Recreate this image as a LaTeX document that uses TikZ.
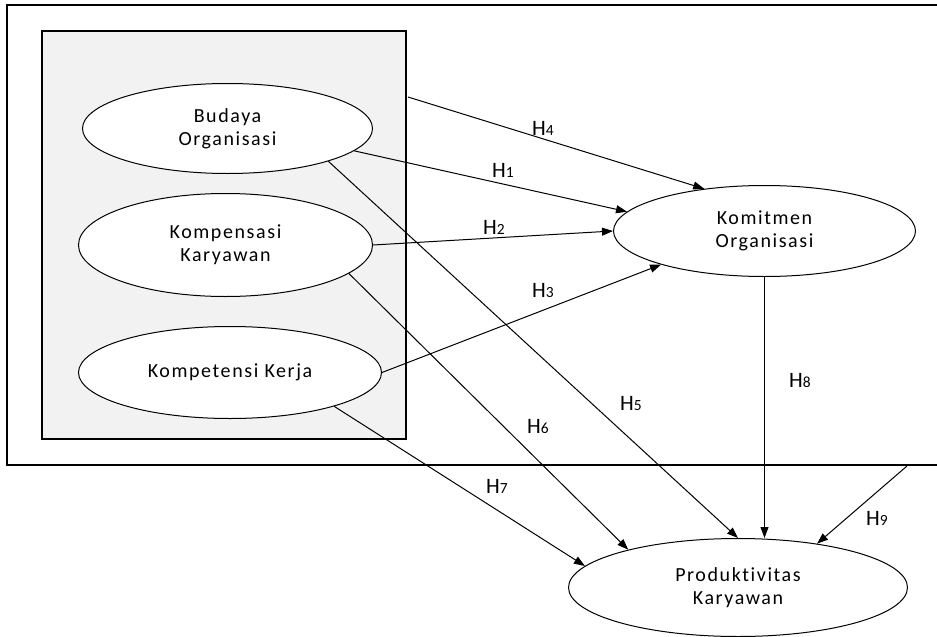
\documentclass[tikz,border=0pt]{standalone}
\usepackage{fontspec}
\setmainfont{Carlito}[Ligatures=NoCommon]
\newfontfamily\elfont{Carlito}[LetterSpace=8,Ligatures=NoCommon]
\usetikzlibrary{arrows.meta,shapes.geometric}
\newcommand\hlab[1]{H{\fontsize{15.5}{15.5}\selectfont #1}}
\begin{document}
\begin{tikzpicture}[x=1pt,y=-1pt,
  var/.style={draw, ellipse, fill=white, line width=1pt, inner sep=0pt, align=center,
    font=\elfont\fontsize{20}{23}\selectfont},
  conn/.style={-{Triangle[length=11pt,width=8pt]}, line width=1pt},
  hyp/.style={inner sep=0pt, font=\fontsize{22}{24}\selectfont},
  frame/.style={line width=1.3pt}]
\useasboundingbox (0,0) rectangle (937,637);
% outer frame
\draw[frame] (937,5) -- (7,5) -- (7,465) -- (937,465);
% inner group box
\draw[line width=1.2pt, fill={rgb,255:red,242;green,242;blue,242}] (42,31) rectangle (406,439);
% variables
\node[var, minimum width=290pt, minimum height=90pt] (bud) at (227.5,128.5) {Budaya\\Organisasi};
\node[var, minimum width=294pt, minimum height=103pt] (kmp) at (225.5,245) {Kompensasi\\Karyawan};
\node[var, minimum width=303pt, minimum height=92pt] (kpt) at (230,372.5) {Kompetensi Kerja};
\node[var, minimum width=302pt, minimum height=91pt] (kmt) at (764.5,231) {Komitmen\\Organisasi};
\node[var, minimum width=339pt, minimum height=98pt] (prd) at (738,587.5) {Produktivitas\\Karyawan};
% free ends
\coordinate (h4s) at (408,97);
\coordinate (h9s) at (907,466);
% connectors
\draw[conn] (h4s) -- (kmt.145);
\draw[conn] (bud.-10.5) -- (kmt.172);
\draw[conn] (kmp.east) -- (kmt.west);
\draw[conn] (kpt.east) -- (kmt.198);
\draw[conn] (bud.-18) -- (prd.north);
\draw[conn] (kmp.-13) -- (prd.161);
\draw[conn] (kpt.-18) -- (prd.172);
\draw[conn] (kmt.south) -- (kmt.south |- prd.north);
\draw[conn] (h9s) -- (prd.29);
% labels
\node[hyp] (l4) at (543,128) {\hlab4};
\node[hyp] (l1) at (503,170) {\hlab1};
\node[hyp] (l2) at (494,227) {\hlab2};
\node[hyp] (l3) at (543,290) {\hlab3};
\node[hyp] (l5) at (631,403) {\hlab5};
\node[hyp] (l6) at (538,426) {\hlab6};
\node[hyp] (l7) at (497,486) {\hlab7};
\node[hyp] (l8) at (800,380) {\hlab8};
\node[hyp] (l9) at (877,518) {\hlab9};
\end{tikzpicture}
\end{document}
